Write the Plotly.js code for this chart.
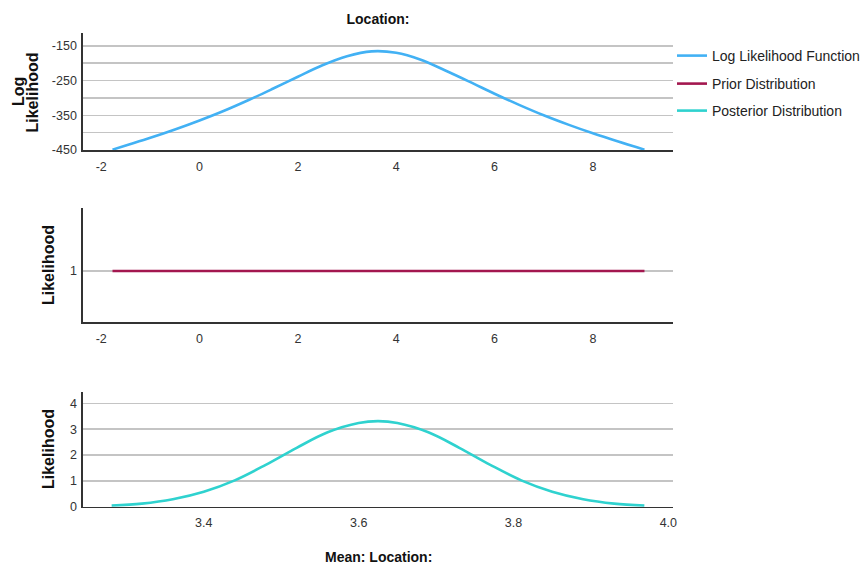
<!DOCTYPE html>
<html>
<head>
<meta charset="utf-8">
<script src="https://cdn.plot.ly/plotly-3.0.1.min.js"></script>
<style>html,body{margin:0;padding:0;background:#fff;}#chart{width:861px;height:570px;}</style>
</head>
<body>
<div id="chart"></div>
<script>
// Log likelihood function (top panel)
var llX = [-1.77, -1.5, -1.0, -0.5, 0.0, 0.5, 1.0, 1.5, 2.0, 2.5, 3.0, 3.5, 4.0, 4.5, 5.0, 5.5, 6.0, 6.5, 7.0, 7.5, 8.0, 8.5, 9.05];
var llY = [-449, -437, -415, -391, -365, -337, -306, -273, -239, -206, -180, -166, -170, -190, -221, -254, -288, -320, -350, -377, -402, -425, -449];

// Prior distribution (middle panel)
var priorX = [-1.77, 9.05];
var priorY = [1, 1];

// Posterior distribution (bottom panel)
var postX = [3.281, 3.32, 3.36, 3.40, 3.44, 3.48, 3.52, 3.56, 3.60, 3.625, 3.65, 3.69, 3.73, 3.77, 3.81, 3.85, 3.89, 3.93, 3.969];
var postY = [0.04, 0.12, 0.29, 0.58, 1.02, 1.62, 2.28, 2.88, 3.24, 3.31, 3.24, 2.88, 2.28, 1.62, 1.02, 0.58, 0.29, 0.12, 0.04];

// Tick labels
var llTickVals = [-450, -400, -350, -300, -250, -200, -150];
var llTickText = ['-450', '', '-350', '', '-250', '', '-150'];
var topXTicks = [-2, 0, 2, 4, 6, 8];
var topXText = ['-2', '0', '2', '4', '6', '8'];
var postXTicks = [3.4, 3.6, 3.8, 4.0];
var postXText = ['3.4', '3.6', '3.8', '4.0'];
var postYTicks = [0, 1, 2, 3, 4];

var W = 861, H = 570;
function px(x) { return x / W; }
function py(y) { return 1 - y / H; }

var SANS = "'Liberation Sans', Arial, sans-serif";
var tickFont = {family: SANS, size: 12.5, color: '#333333'};

var traces = [
  {x: llX, y: llY, xaxis: 'x', yaxis: 'y', type: 'scatter', mode: 'lines',
   name: 'Log Likelihood Function', line: {color: '#42b1f4', width: 2.6, shape: 'spline', smoothing: 1}, legend: 'legend'},
  {x: priorX, y: priorY, xaxis: 'x2', yaxis: 'y2', type: 'scatter', mode: 'lines',
   name: 'Prior Distribution', line: {color: '#a3174f', width: 2.6}, legend: 'legend2'},
  {x: postX, y: postY, xaxis: 'x3', yaxis: 'y3', type: 'scatter', mode: 'lines',
   name: 'Posterior Distribution', line: {color: '#2fd2cf', width: 2.6, shape: 'spline', smoothing: 1}, legend: 'legend3'}
];

function xAxis(range, tickvals, ticktext, anchor) {
  return {
    domain: [px(83), px(673)], range: range, anchor: anchor,
    tickmode: 'array', tickvals: tickvals, ticktext: ticktext,
    showgrid: false, zeroline: false, showline: true, linecolor: '#333333', linewidth: 1.6,
    ticks: 'outside', ticklen: 4, tickcolor: 'rgba(0,0,0,0)', tickfont: tickFont, fixedrange: true
  };
}
function yAxis(domain, range, tickvals, ticktext, anchor) {
  var a = {
    domain: domain, range: range, anchor: anchor,
    tickmode: 'array', tickvals: tickvals,
    showgrid: true, gridcolor: '#c4c4c4', gridwidth: 1.4,
    zeroline: false, showline: true, linecolor: '#333333', linewidth: 1.6,
    ticks: 'outside', ticklen: 2, tickcolor: 'rgba(0,0,0,0)', tickfont: tickFont, fixedrange: true
  };
  if (ticktext) a.ticktext = ticktext;
  return a;
}

function legendAt(yc) {
  return {x: px(672), xanchor: 'left', y: py(yc), yanchor: 'middle',
    bgcolor: 'rgba(0,0,0,0)', borderwidth: 0,
    font: {family: SANS, size: 14, color: '#222222'}};
}

var layout = {
  width: W, height: H,
  margin: {l: 0, r: 0, t: 0, b: 0, autoexpand: false},
  paper_bgcolor: '#ffffff', plot_bgcolor: '#ffffff',
  showlegend: true,
  title: {text: '<b>Location:</b>', x: px(378), xanchor: 'center', y: py(19), yanchor: 'middle',
          font: {family: SANS, size: 14, color: '#111111'}},
  xaxis: xAxis([-2.37, 9.63], topXTicks, topXText, 'y'),
  yaxis: yAxis([py(150), py(33.3)], [-450, -114], llTickVals, llTickText, 'x'),
  xaxis2: xAxis([-2.37, 9.63], topXTicks, topXText, 'y2'),
  yaxis2: yAxis([py(322), py(207.7)], [0.195, 2], [1], ['1'], 'x2'),
  xaxis3: xAxis([3.244, 4.006], postXTicks, postXText, 'y3'),
  yaxis3: yAxis([py(506.7), py(391.7)], [0, 4.45], postYTicks, null, 'x3'),
  legend: legendAt(56),
  legend2: legendAt(84),
  legend3: legendAt(111),
  annotations: [
    {text: '<b>Log</b>', textangle: -90, x: px(18), y: py(92), xref: 'paper', yref: 'paper',
     xanchor: 'center', yanchor: 'middle', showarrow: false, font: {family: SANS, size: 16, color: '#111111'}},
    {text: '<b>Likelihood</b>', textangle: -90, x: px(31.5), y: py(92), xref: 'paper', yref: 'paper',
     xanchor: 'center', yanchor: 'middle', showarrow: false, font: {family: SANS, size: 16, color: '#111111'}},
    {text: '<b>Likelihood</b>', textangle: -90, x: px(48), y: py(265), xref: 'paper', yref: 'paper',
     xanchor: 'center', yanchor: 'middle', showarrow: false, font: {family: SANS, size: 16, color: '#111111'}},
    {text: '<b>Likelihood</b>', textangle: -90, x: px(48), y: py(449), xref: 'paper', yref: 'paper',
     xanchor: 'center', yanchor: 'middle', showarrow: false, font: {family: SANS, size: 16, color: '#111111'}},
    {text: '<b>Mean: Location:</b>', x: px(378), y: py(557), xref: 'paper', yref: 'paper',
     xanchor: 'center', yanchor: 'middle', showarrow: false, font: {family: SANS, size: 14, color: '#111111'}}
  ]
};

Plotly.newPlot('chart', traces, layout, {displayModeBar: false, staticPlot: true});
</script>
</body>
</html>
